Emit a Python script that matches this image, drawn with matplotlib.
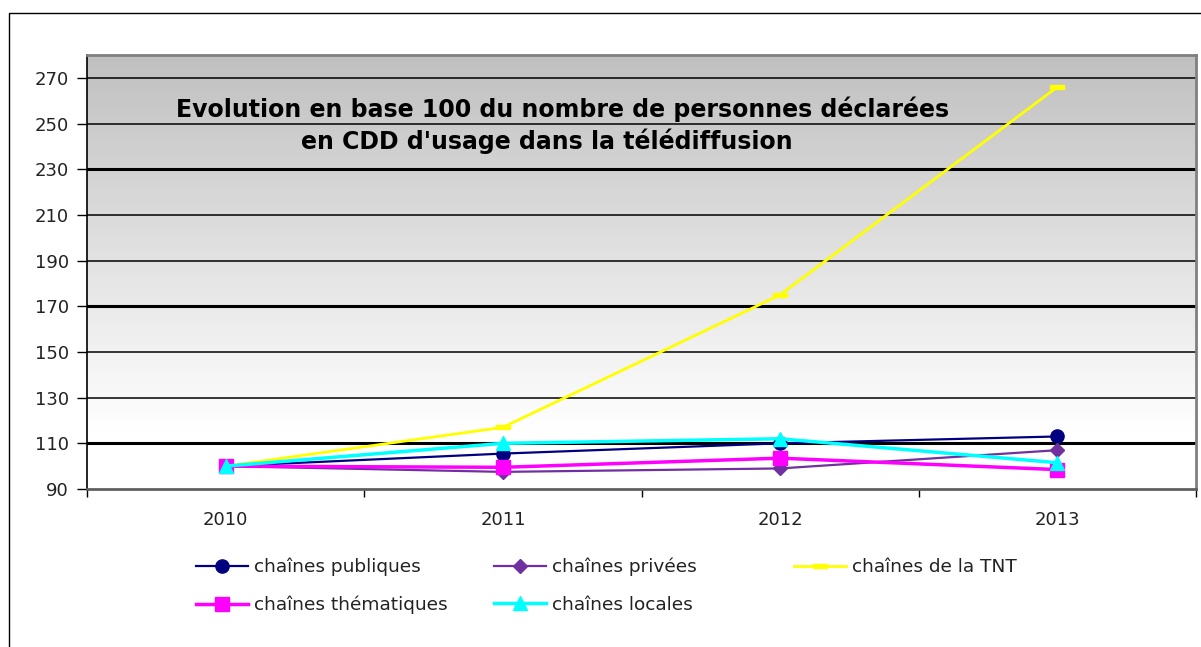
import numpy as np
import matplotlib
matplotlib.use("Agg")
import matplotlib.pyplot as plt
from matplotlib.patches import Rectangle
from matplotlib.path import Path

years = ["2010", "2011", "2012", "2013"]
publiques = [100, 105.5, 110, 113]
privees = [100, 97.5, 99, 107]
tnt = [100, 117, 175, 266]
thematiques = [100, 99.5, 103.5, 98.5]
locales = [100, 110, 112, 101.5]

y_ticks = list(range(90, 271, 20))

plt.rcParams["font.family"] = ["DejaVu Sans"]

fig = plt.figure(figsize=(12.01, 6.47), dpi=100)
fig.patch.set_facecolor("white")
# outer chart frame (runs off right/bottom edge like the source)
fig.patches.append(Rectangle((9 / 1201, -0.05), 1.2, 1 - 13 / 647 + 0.05,
                             transform=fig.transFigure, fill=False,
                             edgecolor="black", linewidth=1.0))

ax = fig.add_axes([87 / 1201, 1 - 489 / 647, 1109 / 1201, 434 / 647])
ax.set_xlim(-0.5, 3.5)
ax.set_ylim(90, 280)

# gray -> white vertical gradient
vals = np.linspace(280, 90, 300)
shade = np.clip(192 + (280 - vals) / 165 * 63, 0, 255) / 255
grad = np.dstack([shade, shade, shade])[0][:, None, :]
ax.imshow(grad, extent=[-0.5, 3.5, 90, 280], aspect="auto", zorder=0,
          interpolation="bilinear")

for v in y_ticks[1:]:
    lw = 2.2 if v in (110, 170, 230) else 1.1
    ax.axhline(v, color="black", linewidth=lw, zorder=1)

x = np.arange(len(years))
dash_marker = Path([(-1, -0.35), (1, -0.35), (1, 0.35), (-1, 0.35), (-1, -0.35)],
                   [Path.MOVETO, Path.LINETO, Path.LINETO, Path.LINETO, Path.CLOSEPOLY])

h_pub, = ax.plot(x, publiques, color="#000080", lw=1.6, marker="o", ms=9.5,
                 label="chaînes publiques", zorder=3)
h_pri, = ax.plot(x, privees, color="#7030A0", lw=1.6, marker="D", ms=7,
                 label="chaînes privées", zorder=3)
h_tnt, = ax.plot(x, tnt, color="#FFFF00", lw=2.0, marker=dash_marker, ms=10,
                 label="chaînes de la TNT", zorder=3)
h_the, = ax.plot(x, thematiques, color="#FF00FF", lw=2.5, marker="s", ms=10,
                 label="chaînes thématiques", zorder=3)
h_loc, = ax.plot(x, locales, color="#00FFFF", lw=2.5, marker="^", ms=10,
                 label="chaînes locales", zorder=3)

ax.set_yticks(y_ticks)
ax.set_yticklabels([str(v) for v in y_ticks], fontsize=13, color="#222222")
ax.set_xticks(x)
ax.set_xticklabels(years, fontsize=13, color="#222222")
ax.set_xticks(np.arange(-0.5, 3.6, 1), minor=True)
ax.tick_params(axis="x", which="major", length=0, pad=16)
ax.tick_params(axis="x", which="minor", length=6, width=1, color="black", direction="out")
ax.tick_params(axis="y", length=7, width=1, color="black", direction="out", pad=6)

for side in ("top", "right"):
    ax.spines[side].set_color("#808080")
    ax.spines[side].set_linewidth(2)
ax.spines["bottom"].set_color("#606060")
ax.spines["bottom"].set_linewidth(2)
ax.spines["left"].set_color("black")
ax.spines["left"].set_linewidth(1.2)

ax.text(0.429, 0.875, "Evolution en base 100 du nombre de personnes déclarées",
        transform=ax.transAxes, ha="center", va="center", fontsize=17,
        fontweight="bold", zorder=4)
ax.text(0.415, 0.801, "en CDD d'usage dans la télédiffusion",
        transform=ax.transAxes, ha="center", va="center", fontsize=17,
        fontweight="bold", zorder=4)

# legend in three columns placed like the source
cols = [([h_pub, h_the], 196), ([h_pri, h_loc], 494), ([h_tnt], 794)]
for handles, px in cols:
    leg = fig.legend(handles=handles, loc="upper left",
                     bbox_to_anchor=(px / 1201, 1 - 558 / 647),
                     frameon=False, fontsize=13.3, handlelength=2.8,
                     handletextpad=0.35, labelspacing=1.05, borderpad=0,
                     borderaxespad=0)
    for t in leg.get_texts():
        t.set_color("#222222")

fig.savefig("out.png", dpi=100)
